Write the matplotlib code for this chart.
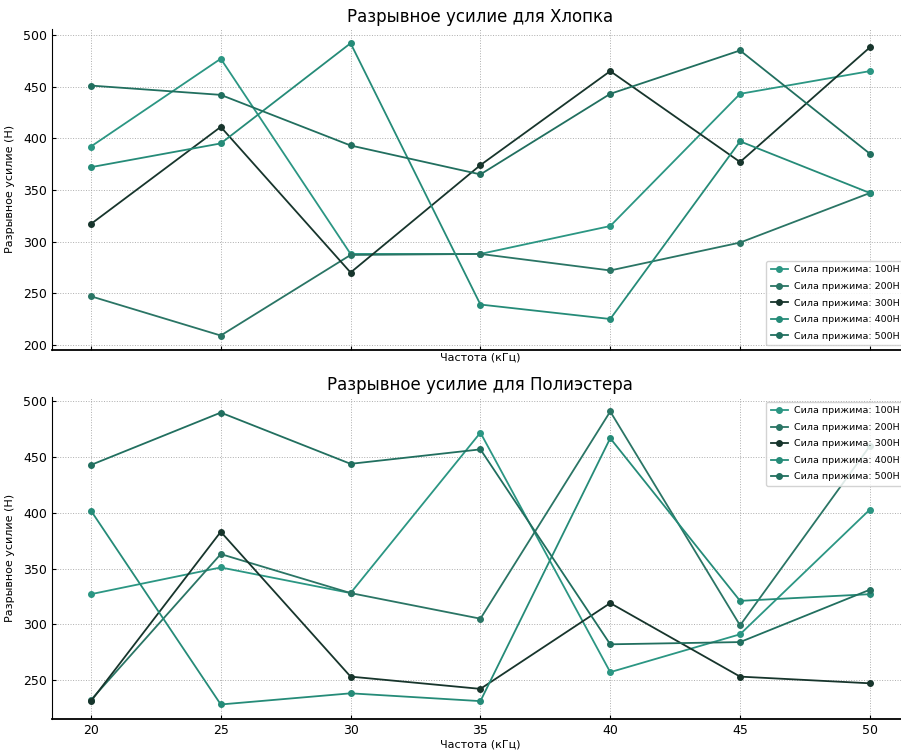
import numpy as np
import matplotlib
matplotlib.use('Agg')
import matplotlib.pyplot as plt

plt.rcParams['font.family'] = ['DejaVu Sans']

# частоты (кГц)
freq = [20, 25, 30, 35, 40, 45, 50]
labels = ['Сила прижима: 100H', 'Сила прижима: 200H', 'Сила прижима: 300H',
          'Сила прижима: 400H', 'Сила прижима: 500H']
colors = ['#2b9683', '#2a7565', '#17352c', '#258b78', '#216f5f']

# Хлопок
cotton_100 = [392, 477, 288, 288, 315, 443, 465]
cotton_200 = [247, 209, 287, 288, 272, 299, 347]
cotton_300 = [317, 411, 270, 374, 465, 377, 488]
cotton_400 = [372, 395, 492, 239, 225, 397, 347]
cotton_500 = [451, 442, 393, 365, 443, 485, 385]

# Полиэстер
poly_100 = [327, 351, 328, 472, 257, 291, 403]
poly_200 = [232, 363, 328, 305, 491, 299, 460]
poly_300 = [231, 383, 253, 242, 319, 253, 247]
poly_400 = [402, 228, 238, 231, 467, 321, 327]
poly_500 = [443, 490, 444, 457, 282, 284, 331]

cotton = [cotton_100, cotton_200, cotton_300, cotton_400, cotton_500]
poly = [poly_100, poly_200, poly_300, poly_400, poly_500]

fig = plt.figure(figsize=(9.01, 7.53), dpi=100)
ax1 = fig.add_axes([0.0577, 0.535, 0.951, 0.427])
ax2 = fig.add_axes([0.0577, 0.045, 0.951, 0.428])


def draw(ax, data, title, legend_loc, show_xticks):
    for vals, lab, c in zip(data, labels, colors):
        ax.plot(freq, vals, marker='o', markersize=4, linewidth=1.3, color=c, label=lab)
    ax.set_title(title, fontsize=12, pad=5)
    ax.set_xlabel('Частота (кГц)', fontsize=8, labelpad=2)
    ax.set_ylabel('Разрывное усилие (Н)', fontsize=8, labelpad=6)
    ax.set_xticks(freq)
    ax.set_yticks([200, 250, 300, 350, 400, 450, 500] if not show_xticks
                  else [250, 300, 350, 400, 450, 500])
    if not show_xticks:
        ax.tick_params(axis='x', labelbottom=False)
    ax.tick_params(labelsize=9, direction='in', length=3)
    ax.grid(True, linestyle=':', linewidth=0.7, color='#999999', alpha=0.8)
    ax.spines['top'].set_visible(False)
    ax.spines['right'].set_visible(False)
    ax.spines['bottom'].set_linewidth(1.3)
    ax.legend(loc=legend_loc, fontsize=6.8, frameon=True, framealpha=0.85,
              handlelength=1.8, borderpad=0.5, labelspacing=0.8,
              handletextpad=0.6)


draw(ax1, cotton, 'Разрывное усилие для Хлопка', 'lower right', False)
draw(ax2, poly, 'Разрывное усилие для Полиэстера', 'upper right', True)

fig.savefig('out.png', dpi=100)
